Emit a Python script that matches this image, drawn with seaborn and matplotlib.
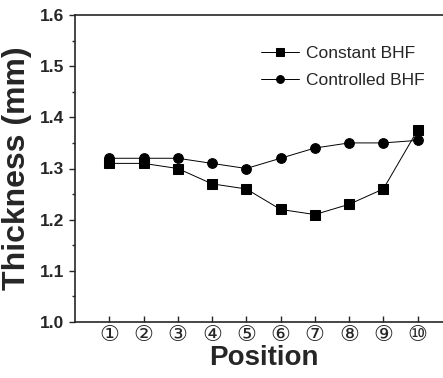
import matplotlib
matplotlib.use("Agg")
import matplotlib.pyplot as plt
import seaborn as sns
import pandas as pd
from matplotlib.ticker import MultipleLocator

positions = [1, 2, 3, 4, 5, 6, 7, 8, 9, 10]
tick_labels = ["①", "②", "③", "④", "⑤", "⑥", "⑦", "⑧", "⑨", "⑩"]
constant_bhf = [1.31, 1.31, 1.30, 1.27, 1.26, 1.22, 1.21, 1.23, 1.26, 1.375]
controlled_bhf = [1.32, 1.32, 1.32, 1.31, 1.30, 1.32, 1.34, 1.35, 1.35, 1.355]

df = pd.DataFrame({
    "Position": positions * 2,
    "Thickness": constant_bhf + controlled_bhf,
    "Series": ["Constant BHF"] * len(positions) + ["Controlled BHF"] * len(positions),
})

sns.set_style("ticks")
plt.rcParams["font.family"] = ["Liberation Sans", "DejaVu Sans"]

fig = plt.figure(figsize=(4.43, 3.78), dpi=100)
ax = fig.add_axes([75 / 443, 1 - 322 / 378, (443 - 75) / 443 + 0.02, (322 - 15) / 378])

sns.lineplot(data=df, x="Position", y="Thickness", hue="Series", style="Series",
             markers={"Constant BHF": "s", "Controlled BHF": "o"},
             dashes=False, palette={"Constant BHF": "black", "Controlled BHF": "black"},
             markersize=7, linewidth=0.7, markeredgecolor="black", ax=ax)

ax.set_xlim(0, 11.0)
ax.set_ylim(1.0, 1.6)
ax.yaxis.set_major_locator(MultipleLocator(0.1))
ax.yaxis.set_minor_locator(MultipleLocator(0.05))
ax.set_xticks(positions)
ax.set_xticklabels(tick_labels, family=["DejaVu Sans", "Noto Sans CJK SC"], fontsize=16)
ax.tick_params(axis="x", direction="in", length=4, width=1, pad=2)
ax.tick_params(axis="y", which="major", direction="out", length=4, width=1)
ax.tick_params(axis="y", which="minor", direction="out", length=2, width=1)
ax.set_yticks([1.0, 1.1, 1.2, 1.3, 1.4, 1.5, 1.6])
ax.set_yticklabels(["1.0", "1.1", "1.2", "1.3", "1.4", "1.5", "1.6"], fontweight="bold", fontsize=12.5)

for s in ["top", "left", "bottom"]:
    ax.spines[s].set_linewidth(1.2)
ax.spines["right"].set_visible(False)

ax.set_xlabel("Position", fontsize=20, fontweight="bold", labelpad=0)
ax.set_ylabel("Thickness (mm)", fontsize=23, fontweight="bold", labelpad=6)

leg = ax.legend(frameon=False, fontsize=12.5, loc="upper right", bbox_to_anchor=(0.97, 0.95),
                handlelength=2.2, handletextpad=0.4, labelspacing=0.7, markerscale=0.8)

fig.savefig("out.png", dpi=100)
